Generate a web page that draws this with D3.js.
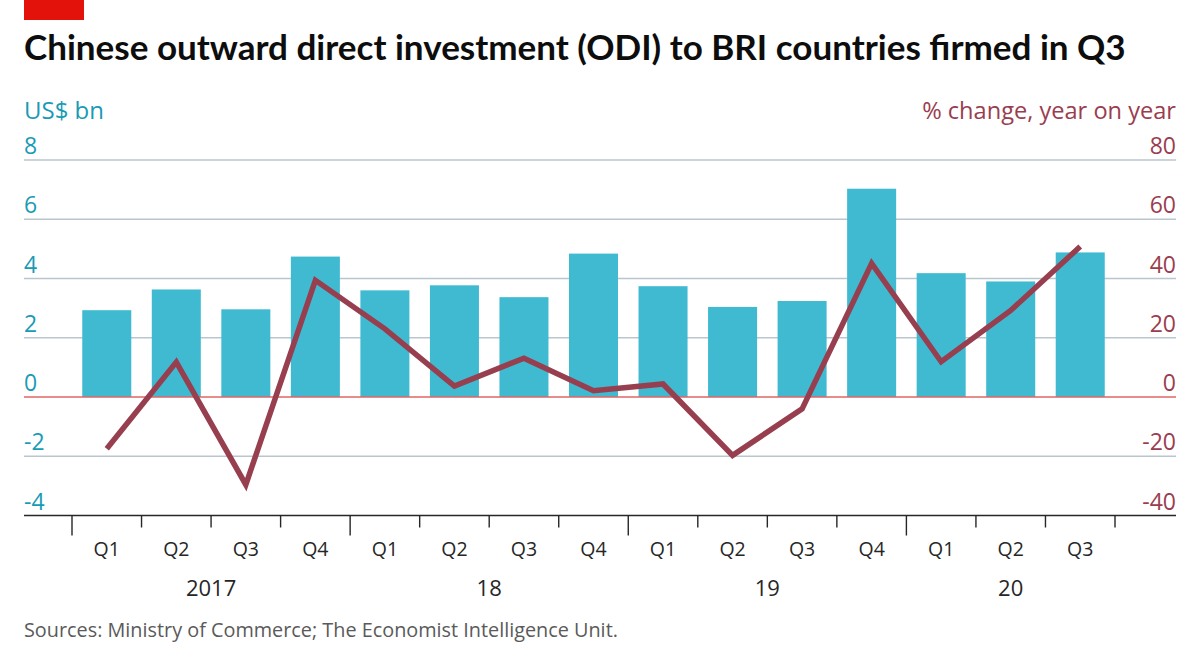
<!DOCTYPE html>
<html>
<head>
<meta charset="utf-8">
<script src="https://cdn.jsdelivr.net/npm/d3@7"></script>
<style>
  html, body { margin: 0; padding: 0; background: #fff; }
  svg { display: block; }
  text { font-family: "Open Sans", "Lato", sans-serif; }
  text.title { font-family: "Lato", "Open Sans", sans-serif; }
</style>
</head>
<body>
<svg id="chart" width="1200" height="660"></svg>
<script>
// ---- Data ----
const quarters = ["Q1","Q2","Q3","Q4","Q1","Q2","Q3","Q4","Q1","Q2","Q3","Q4","Q1","Q2","Q3"];
const years = ["2017","18","19","20"];
const yearQuarterCounts = [4, 4, 4, 3];
const odiValues = [2.93, 3.63, 2.96, 4.74, 3.6, 3.77, 3.37, 4.84, 3.74, 3.04, 3.24, 7.03, 4.18, 3.9, 4.88];
const pctChange = [-17.5, 11.8, -29.6, 39.4, 23, 3.7, 13.1, 2.1, 4.4, -19.7, -4, 45.1, 11.9, 29.2, 50.8];
const leftTicks = [-4, -2, 0, 2, 4, 6, 8];
const rightTicks = [-40, -20, 0, 20, 40, 60, 80];

const title = "Chinese outward direct investment (ODI) to BRI countries firmed in Q3";
const leftLabel = "US$ bn";
const rightLabel = "% change, year on year";
const source = "Sources: Ministry of Commerce; The Economist Intelligence Unit.";

// ---- Layout ----
const svg = d3.select("#chart");
const gridLeft = 24, gridRight = 1176;
const plotTop = 160, plotBottom = 515.5;

const teal = "#1a9bb5";
const maroon = "#9a3d50";
const barColor = "#3fbad1";
const lineColor = "#973f4f";
const gridColor = "#b9c6cd";

function fit(sel, size, target) {
  const w = sel.node().getComputedTextLength();
  sel.attr("font-size", size * target / w);
}

const keys = quarters.map((q, i) => i);
const x = d3.scaleBand().domain(keys).range([72, 1115]).paddingInner(0.295).paddingOuter(0.1475);
const yL = d3.scaleLinear().domain([-4, 8]).range([plotBottom, plotTop]);
const yR = d3.scaleLinear().domain([-40, 80]).range([plotBottom, plotTop]);

// Red tag
svg.append("rect").attr("x", 24).attr("y", 0).attr("width", 60).attr("height", 20).attr("fill", "#e3120b");

// Title
const t = svg.append("text").attr("class", "title").attr("x", 24).attr("y", 60)
  .attr("font-size", 31).attr("font-weight", 700).attr("fill", "#0d0d0d").text(title);
fit(t, 31, 1102);

// Axis titles
const lt = svg.append("text").attr("x", 24).attr("y", 119).attr("font-size", 23).attr("fill", teal).text(leftLabel);
fit(lt, 23, 80);
const rt = svg.append("text").attr("x", gridRight).attr("y", 119).attr("text-anchor", "end")
  .attr("font-size", 23).attr("fill", maroon).text(rightLabel);
fit(rt, 23, 254);

// Gridlines
svg.append("g").selectAll("line").data(leftTicks.filter(d => d !== 0 && d !== -4)).join("line")
  .attr("x1", gridLeft).attr("x2", gridRight)
  .attr("y1", d => yL(d)).attr("y2", d => yL(d))
  .attr("stroke", gridColor).attr("stroke-width", 1.6);

// Left tick labels
svg.append("g").selectAll("text").data(leftTicks).join("text")
  .attr("x", gridLeft).attr("y", d => yL(d) - 6)
  .attr("font-size", 23).attr("fill", teal).text(d => d);

// Right tick labels
svg.append("g").selectAll("text").data(rightTicks).join("text")
  .attr("x", gridRight).attr("y", d => yR(d) - 6).attr("text-anchor", "end")
  .attr("font-size", 23).attr("fill", maroon).text(d => d);

// Bars
svg.append("g").selectAll("rect").data(odiValues).join("rect")
  .attr("x", (d, i) => x(i)).attr("width", x.bandwidth())
  .attr("y", d => yL(Math.max(0, d))).attr("height", d => Math.abs(yL(d) - yL(0)))
  .attr("fill", barColor);

// Zero line
svg.append("line").attr("x1", gridLeft).attr("x2", gridRight)
  .attr("y1", yL(0)).attr("y2", yL(0)).attr("stroke", "#e06565").attr("stroke-width", 1.4);

// Line series
const line = d3.line().x((d, i) => x(i) + x.bandwidth() / 2).y(d => yR(d));
svg.append("path").datum(pctChange).attr("d", line)
  .attr("fill", "none").attr("stroke", lineColor).attr("stroke-width", 5.5)
  .attr("stroke-linejoin", "miter");

// X axis baseline
svg.append("line").attr("x1", gridLeft).attr("x2", gridRight)
  .attr("y1", plotBottom).attr("y2", plotBottom).attr("stroke", "#262626").attr("stroke-width", 1.6);

// Ticks at band boundaries
const step = x.step();
const x0 = x.range()[0];
const yearStarts = [];
let acc = 0;
yearQuarterCounts.forEach(c => { yearStarts.push(acc); acc += c; });
const boundaries = d3.range(quarters.length + 1);
svg.append("g").selectAll("line").data(boundaries).join("line")
  .attr("x1", d => x0 + d * step).attr("x2", d => x0 + d * step)
  .attr("y1", plotBottom).attr("y2", d => yearStarts.includes(d) ? plotBottom + 20 : plotBottom + 12)
  .attr("stroke", "#262626").attr("stroke-width", 1.4);

// Quarter labels
svg.append("g").selectAll("text").data(quarters).join("text")
  .attr("x", (d, i) => x(i) + x.bandwidth() / 2).attr("y", 556)
  .attr("text-anchor", "middle").attr("font-size", 19.5).attr("fill", "#262626").text(d => d);

// Year labels
svg.append("g").selectAll("text").data(years).join("text")
  .attr("x", (d, i) => x0 + (yearStarts[i] + yearQuarterCounts[i] / 2) * step)
  .attr("y", 596).attr("text-anchor", "middle").attr("font-size", 22).attr("fill", "#262626").text(d => d);

// Source
const src = svg.append("text").attr("x", 24).attr("y", 637).attr("font-size", 19).attr("fill", "#5a5a5a").text(source);
fit(src, 19, 594);
</script>
</body>
</html>
